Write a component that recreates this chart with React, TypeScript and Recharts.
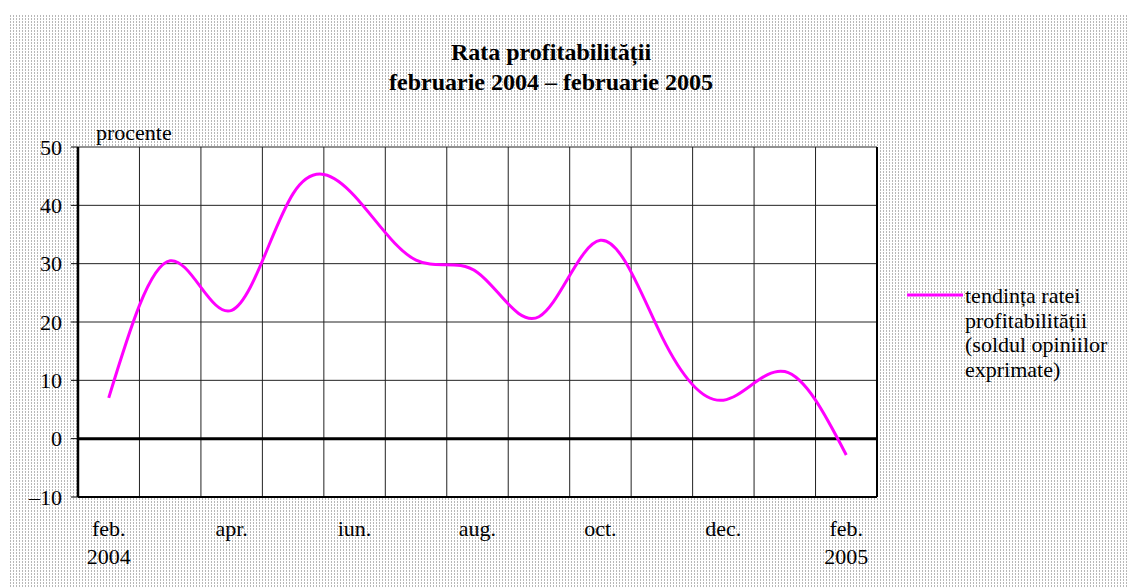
import React from "react";
import {
  LineChart,
  Line,
  XAxis,
  YAxis,
  CartesianGrid,
  ReferenceLine,
  Legend,
} from "recharts";

const FONT = '"Liberation Serif", "Times New Roman", serif';

// one entry per month, feb. 2004 .. feb. 2005
const months = ["feb.", "mar.", "apr.", "mai", "iun.", "iul.", "aug.", "sep.", "oct.", "nov.", "dec.", "ian.", "feb."];
const years = ["2004", "", "", "", "", "", "", "", "", "", "", "", "2005"];
const profitRate = [7, 30.5, 22, 42, 41.6, 30.6, 28.5, 20.9, 34, 17.5, 6.6, 11.5, -2.8];

// months that carry a label on the x axis
const labelledMonths = [0, 2, 4, 6, 8, 10, 12];
const yTicks = [-10, 0, 10, 20, 30, 40, 50];
const yMinorTicks = [-10, -8, -6, -4, -2, 0, 2, 4, 6, 8, 10, 12, 14, 16, 18, 20, 22, 24, 26, 28, 30, 32, 34, 36, 38, 40, 42, 44, 46, 48, 50];

const seriesName = "tendința ratei profitabilității (soldul opiniilor exprimate)";
const legendLines = ["tendința ratei", "profitabilității", "(soldul opiniilor", "exprimate)"];

// month i sits in the middle of band [i, i+1]
const data = months.map((m, i) => ({ x: i + 0.5, month: m, value: profitRate[i] }));
const bandEdges = months.map((_, i) => i).concat(months.length);

const XTick = (props: any) => {
  const { x, y, payload } = props;
  const i = Math.round(payload.value - 0.5);
  return (
    <text x={x} y={y} textAnchor="middle" fontFamily={FONT} fontSize={22} fill="#000">
      <tspan x={x} dy={39}>{months[i]}</tspan>
      {years[i] ? <tspan x={x} dy={28}>{years[i]}</tspan> : null}
    </text>
  );
};

const LegendBox = () => (
  <div style={{ display: "flex", alignItems: "flex-start", fontFamily: FONT, fontSize: 22, lineHeight: "24.5px", color: "#000" }}>
    <svg width={56} height={24} style={{ flex: "none" }}>
      <line x1={0} y1={11} x2={56} y2={11} stroke="#ff00ff" strokeWidth={3} />
    </svg>
    <div style={{ marginLeft: 2 }}>
      {legendLines.map((l) => (
        <div key={l}>{l}</div>
      ))}
    </div>
  </div>
);

export default function App() {
  return (
    <div style={{ position: "relative", width: 1129, height: 580, fontFamily: FONT }}>
      <div
        style={{
          position: "absolute",
          left: 2,
          top: 7,
          width: 1127,
          height: 573,
          backgroundColor: "#b8b8b8",
          backgroundImage:
            "linear-gradient(to right, transparent 1px, #fff 1px), linear-gradient(to bottom, transparent 2px, #fff 2px)",
          backgroundSize: "3px 3px",
        }}
      />
      <div
        style={{
          position: "absolute",
          left: 0,
          top: 29,
          width: 1086,
          textAlign: "center",
          fontWeight: "bold",
          fontSize: 24,
          lineHeight: "30px",
          color: "#000",
        }}
      >
        <div>Rata profitabilității</div>
        <div>februarie 2004 – februarie 2005</div>
      </div>
      <div style={{ position: "absolute", left: 88, top: 112, fontSize: 22, color: "#000" }}>procente</div>
      <div style={{ position: "absolute", left: 0, top: 0 }}>
        <LineChart width={1129} height={580} data={data} margin={{ top: 139, right: 260, left: 0, bottom: 0 }}>
          <CartesianGrid xAxisId="edges" yAxisId="main" fill="#fff" stroke="#222" strokeWidth={1} />
          <XAxis
            xAxisId="edges"
            dataKey="x"
            type="number"
            domain={[0, months.length]}
            ticks={bandEdges}
            height={0}
            hide
          />
          <XAxis
            xAxisId="labels"
            dataKey="x"
            type="number"
            domain={[0, months.length]}
            ticks={labelledMonths.map((i) => i + 0.5)}
            interval={0}
            height={91}
            tickSize={0}
            tickMargin={0}
            tickLine={false}
            axisLine={{ stroke: "#000", strokeWidth: 2 }}
            tick={<XTick />}
          />
          <YAxis
            yAxisId="main"
            type="number"
            domain={[-10, 50]}
            ticks={yTicks}
            interval={0}
            width={70}
            tickSize={7}
            tickMargin={9}
            axisLine={{ stroke: "#000", strokeWidth: 2.5 }}
            tickLine={{ stroke: "#000" }}
            tick={{ fontFamily: FONT, fontSize: 22, fill: "#000" }}
            tickFormatter={(v: number) => (v < 0 ? "–" + Math.abs(v) : String(v))}
          />
          <YAxis
            yAxisId="minor"
            type="number"
            domain={[-10, 50]}
            ticks={yMinorTicks}
            interval={0}
            mirror
            width={0}
            tickSize={5}
            axisLine={false}
            tickLine={{ stroke: "#000" }}
            tickFormatter={() => ""}
          />
          <ReferenceLine xAxisId="edges" yAxisId="main" x={months.length} stroke="#000" strokeWidth={2} />
          <ReferenceLine xAxisId="edges" yAxisId="main" y={0} stroke="#000" strokeWidth={3} />
          <Line
            xAxisId="labels"
            yAxisId="main"
            type="natural"
            dataKey="value"
            name={seriesName}
            stroke="#ff00ff"
            strokeWidth={3}
            dot={false}
            activeDot={false}
            isAnimationActive={false}
          />
          <Legend
            layout="horizontal"
            verticalAlign="middle"
            align="center"
            content={<LegendBox />}
            wrapperStyle={{ position: "absolute", left: 899, top: 276, width: 230 }}
          />
        </LineChart>
      </div>
    </div>
  );
}
